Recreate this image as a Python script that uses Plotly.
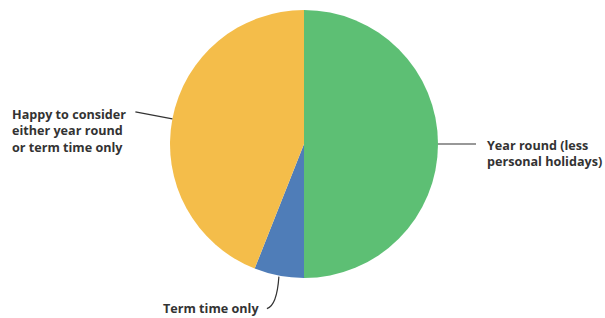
import math
import plotly.graph_objects as go

labels = ["Year round (less<br>personal holidays)", "Term time only", "Happy to consider<br>either year round<br>or term time only"]
values = [50, 6, 44]
colors = ["#5DBF74", "#4F7DB8", "#F4BD4A"]

W, H = 605, 318
cx, cy, r = 304, 144, 134  # pie layout (pixels)

fig = go.Figure(go.Pie(
    labels=labels, values=values, sort=False, direction="clockwise", rotation=0,
    marker=dict(colors=colors, line=dict(width=0)), textinfo="none", hoverinfo="label+percent",
    domain=dict(x=[(cx - r) / W, (cx + r) / W], y=[1 - (cy + r) / H, 1 - (cy - r) / H]),
    showlegend=False,
))

def px(x, y):
    return x / W, 1 - y / H

total = sum(values)
cum = 0
mids = []
for v in values:
    a = (cum + v / 2) / total * 2 * math.pi
    mids.append((cx + r * math.sin(a), cy - r * math.cos(a)))
    cum += v

font = dict(family="Open Sans", size=12.6, color="#333333")
lc = "#333333"
shapes = []
annotations = []

# Year round
x0, y0 = mids[0]
a0 = px(x0, y0); a1 = px(x0 + 38, y0)
shapes.append(dict(type="line", xref="paper", yref="paper", x0=a0[0], y0=a0[1], x1=a1[0], y1=a1[1], line=dict(color=lc, width=1.2)))
t = px(485, y0 + 9)
annotations.append(dict(text="<b>" + labels[0] + "</b>", x=t[0], y=t[1], xref="paper", yref="paper", xanchor="left", yanchor="middle", align="left", showarrow=False, font=font))

# Term time
x0, y0 = mids[1]
p0 = px(x0, y0 + 1); pc = px(x0 - 2, y0 + 30); p1 = px(x0 - 12, y0 + 33)
shapes.append(dict(type="path", xref="paper", yref="paper",
                   path=f"M {p0[0]},{p0[1]} Q {pc[0]},{pc[1]} {p1[0]},{p1[1]}", line=dict(color=lc, width=1.2)))
t = px(261, y0 + 33)
annotations.append(dict(text="<b>" + labels[1] + "</b>", x=t[0], y=t[1], xref="paper", yref="paper", xanchor="right", yanchor="middle", align="right", showarrow=False, font=font))

# Happy
x0, y0 = mids[2]
a0 = px(x0, y0); a1 = px(x0 - 37, y0 - 7)
shapes.append(dict(type="line", xref="paper", yref="paper", x0=a0[0], y0=a0[1], x1=a1[0], y1=a1[1], line=dict(color=lc, width=1.2)))
t = px(10, y0 + 12)
annotations.append(dict(text="<b>" + labels[2] + "</b>", x=t[0], y=t[1], xref="paper", yref="paper", xanchor="left", yanchor="middle", align="left", showarrow=False, font=font))

fig.update_layout(width=W, height=H, margin=dict(l=0, r=0, t=0, b=0),
                  paper_bgcolor="white", plot_bgcolor="white",
                  shapes=shapes, annotations=annotations)
fig.write_html("out.html", config={"displayModeBar": False},
               post_script="document.body.style.margin='0';document.body.style.overflow='hidden';")
